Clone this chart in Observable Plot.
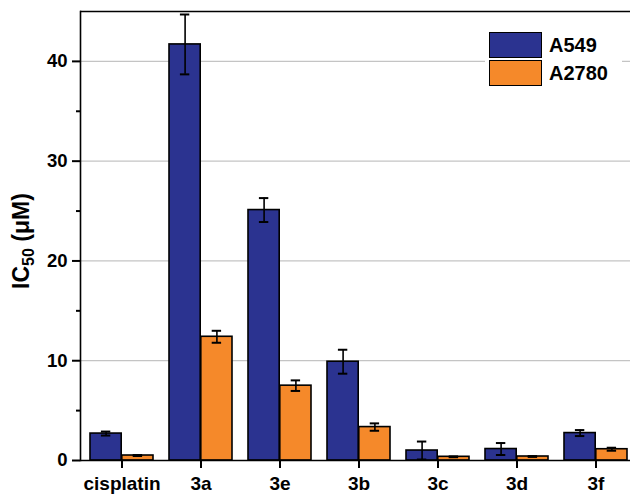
<!DOCTYPE html>
<html>
<head>
<meta charset="utf-8">
<script src="https://cdn.jsdelivr.net/npm/d3@7"></script>
<script src="https://cdn.jsdelivr.net/npm/@observablehq/plot@0.6"></script>
<style>
  body { margin: 0; background: #fff; }
  #wrap { position: relative; width: 630px; height: 494px; overflow: hidden; font-family: "Liberation Sans", Arial, sans-serif; }
  #wrap svg g[aria-label="x-axis tick label"] { font-size: 19px !important; font-weight: bold; fill: #000; }
  #wrap svg g[aria-label="y-axis tick label"] { font-size: 18.5px !important; font-weight: bold; fill: #000; }
  #legend { position: absolute; left: 485px; top: 31px; width: 137px; background: #fff; }
  .lg-row { display: flex; align-items: center; height: 28px; margin-left: 4px; }
  .lg-sw { width: 51px; height: 24px; border: 1.5px solid #000; box-sizing: content-box; margin-right: 7px; }
  .lg-tx { font-weight: bold; font-size: 20px; color: #000; }
</style>
</head>
<body>
<div id="wrap"></div>
<script>
const categories = ["cisplatin", "3a", "3e", "3b", "3c", "3d", "3f"];
const series = ["A549", "A2780"];
const a549 = [2.7, 41.7, 25.1, 9.9, 1.0, 1.15, 2.75];
const a549Err = [0.2, 3.0, 1.2, 1.2, 0.9, 0.6, 0.3];
const a2780 = [0.5, 12.4, 7.5, 3.35, 0.37, 0.4, 1.13];
const a2780Err = [0.05, 0.6, 0.53, 0.37, 0.04, 0.04, 0.15];
const colors = ["#2B3390", "#F5892A"];
const yMajor = [0, 10, 20, 30, 40];
const yMinor = [5, 15, 25, 35];
const yGrid = [10, 20, 30, 40];

const rowsA = categories.map((c, i) => ({cat: c, v: a549[i], lo: a549[i] - a549Err[i], hi: a549[i] + a549Err[i]}));
const rowsB = categories.map((c, i) => ({cat: c, v: a2780[i], lo: a2780[i] - a2780Err[i], hi: a2780[i] + a2780Err[i]}));

const xRange = [80.5, 637];
const pIn = 0.2, pOut = 0.1;
const step = (xRange[1] - xRange[0]) / (categories.length - pIn + 2 * pOut);
const bw = step * (1 - pIn);
const half = bw / 2;
const cap = 5;

const plot = Plot.plot({
  width: 630,
  height: 494,
  marginLeft: 80,
  marginRight: 0,
  marginTop: 11,
  marginBottom: 34,
  style: {fontFamily: "'Liberation Sans', Arial, sans-serif", fontWeight: "bold", color: "#000", background: "#fff", fontSize: "18px"},
  x: {type: "band", domain: categories, range: xRange, paddingInner: pIn, paddingOuter: pOut},
  y: {domain: [0, 45]},
  marks: [
    Plot.gridY(yGrid, {stroke: "#c4c4c4", strokeOpacity: 1, strokeWidth: 1.2}),
    Plot.barY(rowsA, {x: "cat", y: "v", fill: colors[0], stroke: "#000", strokeWidth: 1.6, insetRight: half}),
    Plot.barY(rowsB, {x: "cat", y: "v", fill: colors[1], stroke: "#000", strokeWidth: 1.6, insetLeft: half}),
    Plot.ruleX(rowsA, {x: "cat", y1: "lo", y2: "hi", dx: -half / 2, stroke: "#000", strokeWidth: 1.6}),
    Plot.ruleX(rowsB, {x: "cat", y1: "lo", y2: "hi", dx: half / 2, stroke: "#000", strokeWidth: 1.6}),
    Plot.tickY(rowsA, {x: "cat", y: "hi", dx: -half / 2, insetLeft: half - cap, insetRight: half - cap, stroke: "#000", strokeWidth: 1.8}),
    Plot.tickY(rowsA, {x: "cat", y: "lo", dx: -half / 2, insetLeft: half - cap, insetRight: half - cap, stroke: "#000", strokeWidth: 1.8}),
    Plot.tickY(rowsB, {x: "cat", y: "hi", dx: half / 2, insetLeft: half - cap, insetRight: half - cap, stroke: "#000", strokeWidth: 1.8}),
    Plot.tickY(rowsB, {x: "cat", y: "lo", dx: half / 2, insetLeft: half - cap, insetRight: half - cap, stroke: "#000", strokeWidth: 1.8}),
    Plot.ruleY([0, 45], {stroke: "#000", strokeWidth: 1.6}),
    Plot.frame({anchor: "left", stroke: "#000", strokeWidth: 1.6}),
    Plot.axisY(yMajor, {tickSize: 8, tickPadding: 5, fontSize: 18.5, fontWeight: "bold", label: null, stroke: "#000", strokeWidth: 2}),
    Plot.axisY(yMinor, {tickSize: 4, tickFormat: () => "", label: null, stroke: "#000", strokeWidth: 2}),
    Plot.axisX({tickSize: 8, tickPadding: 8, fontSize: 19, fontWeight: "bold", label: null, stroke: "#000", strokeWidth: 2})
  ]
});

const wrap = document.getElementById("wrap");
wrap.appendChild(plot);

const svg = d3.select(plot);
// make axis ticks solid black
svg.selectAll('g[aria-label$="tick"]')
  .attr("stroke", "#000").attr("stroke-opacity", 1).attr("stroke-width", 2)
  .selectAll("path").attr("stroke", "#000").attr("stroke-opacity", 1).attr("stroke-width", 2);

// y-axis title with subscript
const t = svg.append("text")
  .attr("transform", "translate(29,241) rotate(-90)")
  .attr("text-anchor", "middle")
  .attr("font-family", "'Liberation Sans', Arial, sans-serif")
  .attr("font-weight", "bold")
  .attr("font-size", 23)
  .attr("fill", "#000");
t.append("tspan").text("IC");
t.append("tspan").attr("font-size", 16).attr("dy", 5).text("50");
t.append("tspan").attr("dy", -5).text(" (μM)");

// legend
const legend = document.createElement("div");
legend.id = "legend";
series.forEach((s, i) => {
  const row = document.createElement("div");
  row.className = "lg-row";
  const sw = document.createElement("div");
  sw.className = "lg-sw";
  sw.style.background = colors[i];
  const tx = document.createElement("span");
  tx.className = "lg-tx";
  tx.textContent = s;
  row.appendChild(sw);
  row.appendChild(tx);
  legend.appendChild(row);
});
wrap.appendChild(legend);
</script>
</body>
</html>
